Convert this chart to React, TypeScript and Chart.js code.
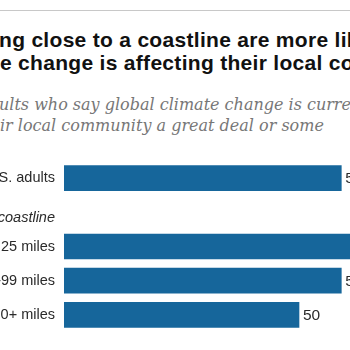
import React, { useEffect, useRef } from "react";
import { Chart, registerables } from "chart.js";

Chart.register(...registerables);

const titleLines: [string, string][] = [
  ["Americans livi", "ng close to a coastline are more likely"],
  ["to say climat", "e change is affecting their local community"],
];
const subtitleLines: [string, string][] = [
  ["% of U.S. ad", "ults who say global climate change is currently"],
  ["affecting the", "ir local community a great deal or some"],
];
const categories = ["U.S. adults", "Distance from coastline", "Within 25 miles", "25-99 miles", "100+ miles"];
const values: (number | null)[] = [59, null, 67, 59, 50];
const headerIndex = 1;

const BAR_COLOR = "#16669b";
const LABEL_FONT = "Liberation Sans";
const LABEL_COLOR = "#2a2a2a";

const labelsPlugin = {
  id: "labelsPlugin",
  afterDatasetsDraw(chart: any) {
    const ctx = chart.ctx;
    const meta = chart.getDatasetMeta(0);
    const yScale = chart.scales.y;
    ctx.save();
    ctx.fillStyle = LABEL_COLOR;
    ctx.textBaseline = "middle";
    ctx.font = `15.5px "${LABEL_FONT}"`;
    ctx.textAlign = "left";
    meta.data.forEach((el: any, i: number) => {
      const v = values[i];
      if (v == null) return;
      ctx.fillText(String(v), el.x + 4, el.y + 1);
    });
    // group header label, sitting slightly below its slot centre
    ctx.font = `italic 14.5px "${LABEL_FONT}"`;
    ctx.textAlign = "right";
    ctx.fillText(categories[headerIndex], chart.chartArea.left - 9, yScale.getPixelForValue(headerIndex) + 6);
    ctx.restore();
  },
};

function ChartCanvas() {
  const ref = useRef<HTMLCanvasElement>(null);
  useEffect(() => {
    if (!ref.current) return;
    const chart = new Chart(ref.current, {
      type: "bar",
      data: {
        labels: categories,
        datasets: [
          {
            data: values as any,
            backgroundColor: BAR_COLOR,
            barThickness: 25,
          },
        ],
      },
      options: {
        indexAxis: "y",
        responsive: false,
        animation: false,
        layout: { padding: 0 },
        plugins: { legend: { display: false }, tooltip: { enabled: false }, title: { display: false } },
        scales: {
          x: { display: false, min: 0, max: 100 },
          y: {
            grid: { display: false, drawTicks: false },
            border: { display: false },
            afterFit: (s: any) => {
              s.width = 214;
              s.paddingTop = 0;
              s.paddingBottom = 0;
            },
            ticks: {
              autoSkip: false,
              padding: 9,
              color: LABEL_COLOR,
              font: { family: LABEL_FONT, size: 14.5 },
              callback: (_v: any, i: number) => (i === headerIndex ? "" : categories[i]),
            },
          },
        },
      },
      plugins: [labelsPlugin],
    });
    return () => chart.destroy();
  }, []);
  return (
    <canvas
      ref={ref}
      width={684}
      height={171}
      style={{ position: "absolute", left: -150, top: 161, width: 684, height: 171 }}
    />
  );
}

function Line({ parts, top, left, style }: { parts: [string, string]; top: number; left: number; style: React.CSSProperties }) {
  return (
    <div style={{ position: "absolute", top, left, whiteSpace: "nowrap", ...style }}>
      <span style={{ position: "absolute", right: "100%", top: 0 }}>{parts[0]}</span>
      {parts[1]}
    </div>
  );
}

export default function App() {
  const titleStyle: React.CSSProperties = {
    fontFamily: "Liberation Sans",
    fontWeight: 700,
    fontSize: 21,
    lineHeight: "21px",
    letterSpacing: 0.3,
    color: "#111",
  };
  const subStyle: React.CSSProperties = {
    fontFamily: "DejaVu Serif",
    fontStyle: "italic",
    fontSize: 16,
    lineHeight: "16px",
    color: "#777",
  };
  return (
    <div
      style={{
        position: "fixed",
        left: 0,
        top: 0,
        width: 350,
        height: 350,
        overflow: "hidden",
        background: "#fff",
      }}
    >
      <div style={{ position: "absolute", left: 0, top: 10, width: 350, height: 1, background: "#c8c8c8" }} />
      <Line parts={titleLines[0]} top={29} left={-1} style={titleStyle} />
      <Line parts={titleLines[1]} top={52} left={0} style={titleStyle} />
      <Line parts={subtitleLines[0]} top={97} left={-1} style={subStyle} />
      <Line parts={subtitleLines[1]} top={118} left={0} style={subStyle} />
      <ChartCanvas />
    </div>
  );
}
